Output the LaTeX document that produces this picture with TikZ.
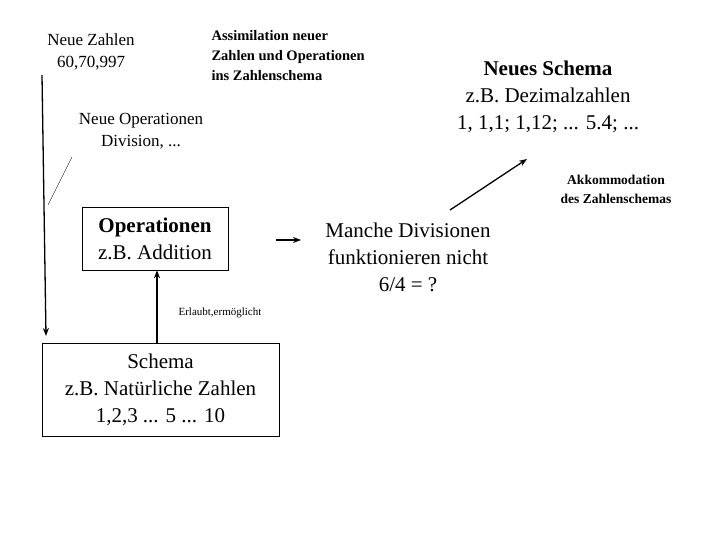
\documentclass[tikz,border=0pt]{standalone}
\usepackage{fontspec}
\setmainfont{Liberation Serif}
\usetikzlibrary{positioning,arrows.meta}
\begin{document}
\begin{tikzpicture}[x=1pt,y=-1pt,align=center,
    big/.style={font=\fontsize{21}{27}\selectfont},
    mid/.style={font=\fontsize{17}{22}\selectfont},
    conn/.style={line width=1.3pt,-{Stealth[length=8pt,width=6pt]}}]
    \useasboundingbox (0,0) rectangle (720,540);
    \node [mid] (zahlen) at (91,52) {Neue Zahlen\\60,70,997};
    \node [font=\bfseries\fontsize{14.5}{20}\selectfont, align=left, anchor=west] (assim) at (208,56) {Assimilation neuer\\Zahlen und Operationen\\ins Zahlenschema};
    \node [big] (neu) at (548,97) {\textbf{Neues Schema}\\z.B. Dezimalzahlen\\1, 1,1; 1,12; ... 5.4; ...};
    \node [mid] (neuop) at (141,131) {Neue Operationen\\Division, ...};
    \node [font=\bfseries\fontsize{13.5}{19}\selectfont] (akk) at (616,189) {Akkommodation\\des Zahlenschemas};
    \node [draw, big, minimum width=146, minimum height=63, inner sep=2] (op) at (155,238.5) {\textbf{Operationen}\\z.B. Addition};
    \node [big] (manche) at (408,257) {Manche Divisionen\\funktionieren nicht\\6/4 = ?};
    \node [font=\fontsize{11}{13}\selectfont] (erl) at (220,313) {Erlaubt,ermöglicht};
    \node [draw, big, minimum width=237, minimum height=93, inner sep=2] (schema) at (160.5,389.5) {Schema\\z.B. Natürliche Zahlen\\1,2,3 ... 5 ... 10};

    \coordinate (ltop) at (42,75);
    \coordinate (lbot) at (46,336);
    \coordinate (sa) at (48,205);
    \coordinate (sb) at (72,157);
    \coordinate (ma) at (276,240);
    \coordinate (mb) at (301,240);
    \coordinate (ka) at (450,210);
    \coordinate (kb) at (527,159);

    \draw [conn] (ltop) -- (lbot);
    \draw [thin] (sa) -- (sb);
    \draw [conn] (ma) -- (mb);
    \draw [conn] (ka) -- (kb);
    \draw [conn] (schema.north -| 157,0) -- (op.south -| 157,0);
\end{tikzpicture}
\end{document}
